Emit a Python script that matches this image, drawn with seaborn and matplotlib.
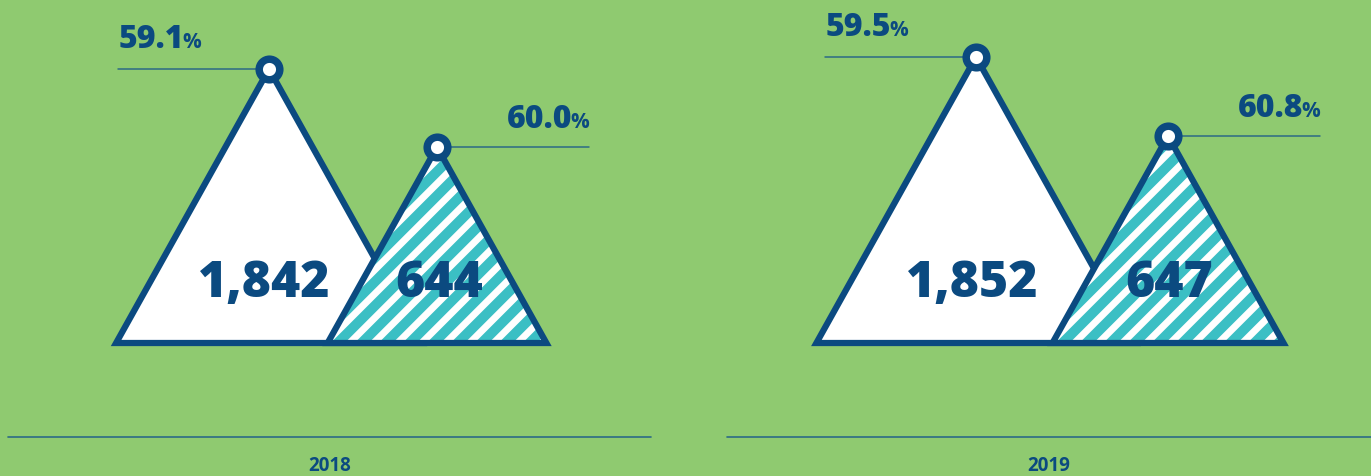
import numpy as np
import pandas as pd
import matplotlib
matplotlib.use("Agg")
import matplotlib.pyplot as plt
from matplotlib.patches import Polygon
import seaborn as sns

# ---------------- data ----------------
years = ["2018", "2019"]
total_counts = [1842, 1852]
sub_counts = [644, 647]
total_pct = [59.1, 59.5]
sub_pct = [60.0, 60.8]

# ---------------- layout / style ----------------
W, H = 1371, 477
BG = "#8fca70"
NAVY = "#0b4a80"
TEAL = "#3bbfc4"
THIN = "#2c6a86"
base_y = 344
slope = 0.558           # half-width / height of each triangle
white_apex_x = [269, 976]
white_height = [274, 286]
teal_apex_x = [437, 1168]
teal_height = [196, 207]
num_white_x = [264, 972]
num_teal_x = [439, 1169]
num_baseline = 297
bottom_line = [(8, 651), (727, 1371)]
bottom_y = 438
year_y = 466
HEAVY = 800

sns.set_theme(style="white")
plt.rcParams["font.family"] = ["Open Sans", "DejaVu Sans"]

fig = plt.figure(figsize=(W / 100, H / 100), dpi=100)
fig.patch.set_facecolor(BG)
ax = fig.add_axes([0, 0, 1, 1])
ax.set_facecolor(BG)
ax.set_xlim(0, W)
ax.set_ylim(H, 0)
ax.axis("off")


def tri(ax_x, h):
    top = base_y - h
    hw = h * slope
    return [(ax_x - hw, base_y), (ax_x, top), (ax_x + hw, base_y)]


apex_rows = []
for i in range(len(years)):
    # white triangle
    wpts = tri(white_apex_x[i], white_height[i])
    ax.add_patch(Polygon(wpts, closed=True, facecolor="white", edgecolor=NAVY,
                         linewidth=4.5, joinstyle="miter", zorder=2))
    # teal striped triangle
    tpts = tri(teal_apex_x[i], teal_height[i])
    tpoly = Polygon(tpts, closed=True, facecolor=TEAL, edgecolor="none", zorder=3)
    ax.add_patch(tpoly)
    x0 = tpts[0][0] - 300
    for c in np.arange(x0, tpts[2][0] + 20, 24):
        ln, = ax.plot([c, c + 400], [base_y + 10, base_y + 10 - 400], color="white",
                      lw=5.0, solid_capstyle="butt", zorder=3.5)
        ln.set_clip_path(tpoly)
    ax.add_patch(Polygon(tpts, closed=True, facecolor="none", edgecolor=NAVY,
                         linewidth=4.5, joinstyle="miter", zorder=4))

    wtop = base_y - white_height[i]
    ttop = base_y - teal_height[i]
    apex_rows.append({"x": white_apex_x[i], "y": wtop})
    apex_rows.append({"x": teal_apex_x[i], "y": ttop})

    # connector lines
    ax.plot([white_apex_x[i] - 151, white_apex_x[i]], [wtop, wtop], color=THIN, lw=1.1, zorder=1)
    ax.plot([teal_apex_x[i], teal_apex_x[i] + 152], [ttop, ttop], color=THIN, lw=1.1, zorder=1)

    # counts
    ax.text(num_white_x[i], num_baseline, f"{total_counts[i]:,}", ha="center", va="baseline",
            fontsize=36, fontweight=HEAVY, color=NAVY, zorder=6)
    ax.text(num_teal_x[i], num_baseline, f"{sub_counts[i]:,}", ha="center", va="baseline",
            fontsize=36, fontweight=HEAVY, color=NAVY, zorder=6)

    # bottom rule + year
    ax.plot(list(bottom_line[i]), [bottom_y, bottom_y], color=THIN, lw=1.2)
    ax.text(sum(bottom_line[i]) / 2, year_y, years[i], ha="center", va="center",
            fontsize=13.5, fontweight="bold", color=NAVY)

apex_df = pd.DataFrame(apex_rows)
sns.scatterplot(data=apex_df, x="x", y="y", ax=ax, s=220, marker="o",
                facecolor="white", edgecolor=NAVY, linewidth=5.4, zorder=7, legend=False)
ax.set_xlim(0, W)
ax.set_ylim(H, 0)
ax.axis("off")

# percentage labels (big number + small %)
fig.canvas.draw()
renderer = fig.canvas.get_renderer()
inv = ax.transData.inverted()
for i in range(len(years)):
    wtop = base_y - white_height[i]
    ttop = base_y - teal_height[i]
    # left label: left aligned
    bl = wtop - 22
    t = ax.text(white_apex_x[i] - 150, bl, f"{total_pct[i]:.1f}", ha="left", va="baseline",
                fontsize=23, fontweight=HEAVY, color=NAVY)
    bb = t.get_window_extent(renderer)
    xe = inv.transform((bb.x1, 0))[0]
    ax.text(xe - 2, bl, "%", ha="left", va="baseline", fontsize=15, fontweight="bold", color=NAVY)
    # right label: right aligned to line end
    bl2 = ttop - 20
    p = ax.text(teal_apex_x[i] + 152, bl2, "%", ha="right", va="baseline",
                fontsize=15, fontweight="bold", color=NAVY)
    bb = p.get_window_extent(renderer)
    xs = inv.transform((bb.x0, 0))[0]
    ax.text(xs + 2, bl2, f"{sub_pct[i]:.1f}", ha="right", va="baseline",
            fontsize=23, fontweight=HEAVY, color=NAVY)

fig.savefig("out.png", dpi=100, facecolor=BG)
